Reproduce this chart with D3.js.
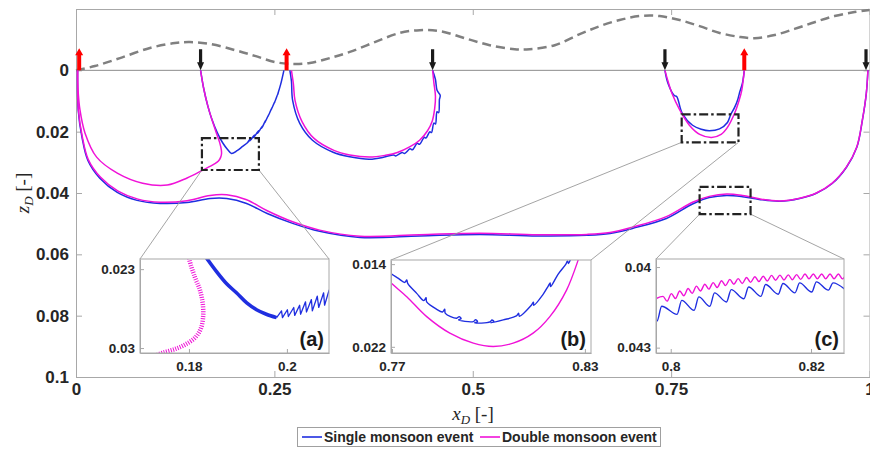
<!DOCTYPE html>
<html>
<head>
<meta charset="utf-8">
<script src="https://cdn.jsdelivr.net/npm/d3@7"></script>
<style>
body { margin: 0; background: #fff; }
text { font-family: "Liberation Sans", Arial, sans-serif; }
</style>
</head>
<body>
<div id="chart"></div>
<script>
// ---- data (x_D, z_D) ----
const xTicks = [0, 0.25, 0.5, 0.75, 1];
const zTicks = [0, 0.02, 0.04, 0.06, 0.08, 0.1];
const seriesNames = ["Single monsoon event", "Double monsoon event"];

// water table (dashed)
const waterX = [0, 0.0239, 0.0554, 0.0932, 0.1247, 0.1436, 0.1688, 0.2003, 0.2254, 0.2506, 0.272, 0.2947, 0.3199, 0.3451, 0.3766, 0.4081, 0.4332, 0.4584, 0.4899, 0.5214, 0.5529, 0.5718, 0.6033, 0.6348, 0.6599, 0.6851, 0.7103, 0.7355, 0.7607, 0.7859, 0.8111, 0.8363, 0.8552, 0.8804, 0.9055, 0.9307, 0.9559, 0.9811, 1];
const waterZ = [0, -0.0014, -0.004, -0.0073, -0.0089, -0.0092, -0.0086, -0.0066, -0.0047, -0.0027, -0.0021, -0.0024, -0.004, -0.006, -0.0092, -0.0122, -0.0131, -0.0128, -0.0105, -0.0082, -0.0069, -0.0069, -0.0082, -0.0118, -0.0144, -0.0164, -0.0177, -0.0177, -0.0164, -0.0144, -0.0122, -0.0109, -0.0105, -0.0115, -0.0135, -0.0157, -0.0177, -0.019, -0.0197];

// inflow (black, down) and outflow (red, up) points
const inflowX = [0.157, 0.4494, 0.7422, 0.9956];
const outflowX = [0.004, 0.2654, 0.8422];

// single monsoon event pathlines
const deepS = [[0.002,0],[0.0028,0.013],[0.0076,0.0219],[0.015,0.0294],[0.03,0.0352],[0.052,0.0398],[0.077,0.0424],[0.106,0.0434],[0.14,0.0431],[0.169,0.0418],[0.19,0.0418],[0.215,0.0434],[0.241,0.0467],[0.273,0.0499],[0.307,0.0525],[0.358,0.0545],[0.433,0.054],[0.509,0.0535],[0.581,0.054],[0.644,0.0538],[0.673,0.0532],[0.702,0.0515],[0.744,0.0483],[0.777,0.0436],[0.798,0.0415],[0.82,0.0408],[0.84,0.0412],[0.861,0.0421],[0.887,0.0427],[0.912,0.0418],[0.933,0.0401],[0.953,0.0369],[0.971,0.0316],[0.984,0.0251],[0.991,0.0163],[0.996,0.0075],[0.998,0]];
const leftS = [[0.157,0],[0.161,0.006],[0.166,0.0115],[0.171,0.0158],[0.178,0.0203],[0.185,0.0237],[0.191,0.0258],[0.196,0.0271],[0.203,0.0262],[0.21,0.0248],[0.216,0.0236],[0.22,0.0222],[0.219,0.023],[0.225,0.0211],[0.224,0.0219],[0.23,0.0197],[0.229,0.0205],[0.235,0.0181],[0.234,0.0189],[0.239,0.0163],[0.238,0.0171],[0.243,0.0143],[0.242,0.0151],[0.247,0.0121],[0.246,0.0129],[0.251,0.0099],[0.25,0.0107],[0.255,0.0072],[0.254,0.008],[0.258,0.0045],[0.262,0]];
const middleS = [[0.2695,0],[0.2715,0.0035],[0.273,0.0098],[0.282,0.0173],[0.298,0.0228],[0.324,0.0267],[0.345,0.0282],[0.37,0.029],[0.39,0.0282],[0.4,0.0276],[0.403,0.0279],[0.411,0.0268],[0.414,0.0271],[0.421,0.0256],[0.424,0.0259],[0.43,0.0238],[0.433,0.0241],[0.439,0.0218],[0.441,0.0221],[0.446,0.02],[0.448,0.0203],[0.451,0.0172],[0.453,0.0175],[0.455,0.0135],[0.457,0.0138],[0.458,0.0095],[0.459,0.0082],[0.455,0.0065],[0.453,0.003],[0.4494,0]];
const rightS = [[0.7422,0],[0.746,0.0042],[0.754,0.0082],[0.757,0.0085],[0.764,0.014],[0.777,0.0179],[0.788,0.0192],[0.798,0.0197],[0.811,0.0191],[0.821,0.017],[0.825,0.0145],[0.83,0.0121],[0.834,0.0095],[0.836,0.0075],[0.84,0.004],[0.8422,0]];

// double monsoon event pathlines
const deepD = [[0.002,0],[0.003,0.013],[0.008,0.0217],[0.0155,0.0291],[0.031,0.0349],[0.053,0.0394],[0.078,0.042],[0.106,0.043],[0.14,0.0425],[0.169,0.0408],[0.19,0.0406],[0.215,0.0422],[0.241,0.0458],[0.273,0.0494],[0.307,0.0521],[0.358,0.0541],[0.433,0.0536],[0.509,0.0531],[0.581,0.0536],[0.644,0.0535],[0.673,0.0529],[0.702,0.0511],[0.744,0.0477],[0.777,0.043],[0.798,0.0411],[0.82,0.0403],[0.84,0.0408],[0.861,0.0419],[0.887,0.0426],[0.912,0.0417],[0.933,0.04],[0.953,0.0368],[0.971,0.0315],[0.984,0.025],[0.991,0.0162],[0.996,0.0074],[0.998,0]];
const leftD = [[0.157,0],[0.161,0.006],[0.166,0.0115],[0.171,0.0158],[0.177,0.0205],[0.181,0.0235],[0.1832,0.026],[0.1834,0.0272],[0.1824,0.0283],[0.1795,0.0296],[0.174,0.0306],[0.16,0.0325],[0.14,0.0351],[0.115,0.0374],[0.084,0.0368],[0.052,0.0335],[0.026,0.0283],[0.0113,0.0204],[0.005,0.0129],[0.0025,0.006],[0.002,0]];
const middleD = [[0.2715,0],[0.274,0.0045],[0.276,0.0098],[0.285,0.0168],[0.3,0.0222],[0.325,0.0261],[0.345,0.0276],[0.37,0.0283],[0.39,0.0277],[0.405,0.0268],[0.421,0.0249],[0.433,0.0228],[0.443,0.0197],[0.449,0.0165],[0.452,0.0125],[0.453,0.0085],[0.451,0.004],[0.4494,0]];
const rightD = [[0.7422,0],[0.746,0.0035],[0.751,0.0075],[0.761,0.013],[0.773,0.0179],[0.786,0.0209],[0.801,0.0219],[0.813,0.0209],[0.821,0.0186],[0.83,0.014],[0.836,0.0095],[0.839,0.0065],[0.8422,0]];

// zoom boxes on the main plot [x0, x1, z0, z1]
const zoomBoxes = [[0.1587, 0.2305, 0.0221, 0.0325], [0.7633, 0.8349, 0.01435, 0.02348], [0.7859, 0.8501, 0.038, 0.0469]];

// inset (a)
const insetAx = [0.17, 0.2086], insetAz = [0.0221, 0.03044];
const insetAxTicks = [0.18, 0.2], insetAzTicks = [0.023, 0.03];
const insetAsingleBand = [[0.1831,0.0217],[0.1839,0.0222],[0.1856,0.0232],[0.1877,0.0243],[0.1897,0.0251],[0.1918,0.026],[0.1938,0.0266],[0.1958,0.027],[0.1979,0.0273]];
const insetAsingleTeeth = [[0.1979,0.0273],[0.1989,0.0267],[0.1991,0.0273],[0.2001,0.0266],[0.2003,0.0272],[0.2014,0.0264],[0.2016,0.0271],[0.2026,0.0262],[0.2028,0.027],[0.2038,0.0259],[0.204,0.0268],[0.205,0.0257],[0.2052,0.0267],[0.2062,0.0254],[0.2065,0.0264],[0.2075,0.0251],[0.2077,0.0262],[0.2086,0.0249],[0.2092,0.0245]];
const insetAdouble = [[0.1799,0.0216],[0.1801,0.0222],[0.1812,0.0237],[0.1822,0.0248],[0.1828,0.026],[0.1829,0.0272],[0.1824,0.0283],[0.1812,0.0291],[0.1792,0.0297],[0.1771,0.0301],[0.1748,0.0304],[0.1735,0.0306]];

// inset (b)
const insetBx = [0.7697, 0.8319], insetBz = [0.0136, 0.0226];
const insetBxTicks = [0.77, 0.83], insetBzTicks = [0.014, 0.022];
const insetBsingle = [[0.7688,0.0146],[0.7694,0.01484],[0.772,0.01538],[0.774,0.01577],[0.7746,0.01554],[0.7749,0.01586],[0.7777,0.01683],[0.7799,0.01753],[0.7806,0.01725],[0.7808,0.01766],[0.7839,0.01837],[0.7857,0.01863],[0.7864,0.01837],[0.7866,0.01876],[0.7901,0.01924],[0.7909,0.01908],[0.7915,0.01927],[0.7907,0.0194],[0.7953,0.01956],[0.796,0.01937],[0.7966,0.01956],[0.7957,0.01969],[0.8005,0.01959],[0.8011,0.0194],[0.8017,0.01956],[0.8008,0.01969],[0.8046,0.0194],[0.8087,0.01901],[0.8094,0.01876],[0.8096,0.01904],[0.8134,0.01795],[0.814,0.01769],[0.8141,0.01798],[0.817,0.01692],[0.8186,0.01612],[0.8192,0.01583],[0.8193,0.01618],[0.8217,0.01496],[0.8241,0.014],[0.8246,0.01368],[0.8249,0.01394],[0.8255,0.01355],[0.826,0.0132]];
const insetBdouble = [[0.7688,0.0154],[0.7694,0.0157],[0.7746,0.01715],[0.7808,0.01908],[0.788,0.02068],[0.7953,0.02165],[0.8015,0.02197],[0.8077,0.02165],[0.8139,0.02068],[0.8191,0.01908],[0.8243,0.01651],[0.8279,0.01361],[0.8283,0.0132]];

// inset (c)
const insetCx = [0.7979, 0.8247], insetCz = [0.0397, 0.0432];
const insetCxTicks = [0.8, 0.82], insetCzTicks = [0.04, 0.043];
const insetCsingle = [[0.79786,0.04186],[0.79805,0.04201],[0.79871,0.04146],[0.8009,0.04176],[0.80157,0.04124],[0.80333,0.04161],[0.804,0.04111],[0.80557,0.04146],[0.80624,0.04096],[0.80795,0.0413],[0.80862,0.04084],[0.81043,0.04118],[0.8111,0.04074],[0.81286,0.04109],[0.81352,0.04065],[0.81533,0.04101],[0.816,0.04061],[0.81771,0.04096],[0.81838,0.04059],[0.8201,0.04093],[0.82076,0.04055],[0.82248,0.04086],[0.82314,0.04059],[0.82486,0.04084]];
const insetCdouble = [[0.79786,0.04118],[0.7989,0.04109],[0.79947,0.04127],[0.8001,0.04099],[0.80067,0.04117],[0.80129,0.04089],[0.80186,0.04107],[0.80248,0.0408],[0.80305,0.04098],[0.80367,0.04071],[0.80424,0.04089],[0.80486,0.04064],[0.80543,0.04082],[0.80605,0.04058],[0.80662,0.04076],[0.80724,0.04051],[0.80781,0.04069],[0.80843,0.04046],[0.809,0.04064],[0.80962,0.04043],[0.81019,0.04061],[0.81081,0.04039],[0.81138,0.04057],[0.812,0.04036],[0.81257,0.04054],[0.81319,0.04034],[0.81376,0.04052],[0.81438,0.04031],[0.81495,0.04049],[0.81557,0.0403],[0.81614,0.04048],[0.81676,0.04029],[0.81733,0.04047],[0.81795,0.04028],[0.81852,0.04046],[0.81914,0.04026],[0.81971,0.04044],[0.82033,0.04026],[0.8209,0.04044],[0.82152,0.04026],[0.82209,0.04044],[0.82271,0.04026],[0.82328,0.04044],[0.8239,0.04026],[0.82447,0.04044],[0.8249,0.04032]];

// ---- drawing ----
const W = 870, H = 449;
const BLUE = "#1f2ee0", MAGENTA = "#f012d8", AXIS = "#a8a8a8", TXT = "#262626";

const svg = d3.select("#chart").append("svg").attr("width", W).attr("height", H);

const x = d3.scaleLinear().domain([0, 1]).range([76, 869.5]);
const y = d3.scaleLinear().domain([-0.02, 0.1]).range([9, 377]);

function styleAxis(g, size) {
	g.select(".domain").attr("stroke", AXIS);
	g.selectAll(".tick line").attr("stroke", AXIS);
	g.selectAll(".tick text")
		.attr("fill", TXT)
		.style("font-size", size + "px")
		.style("font-weight", "bold");
}

svg.append("g")
	.attr("transform", "translate(0,377)")
	.call(d3.axisBottom(x).tickValues(xTicks).tickFormat(String).tickSize(-6).tickSizeOuter(0).tickPadding(6))
	.call(styleAxis, 17);
svg.append("g")
	.attr("transform", "translate(76,0)")
	.call(d3.axisLeft(y).tickValues(zTicks).tickFormat(String).tickSize(-6).tickSizeOuter(0).tickPadding(7))
	.call(styleAxis, 17);
svg.append("g")
	.attr("transform", "translate(0,9)")
	.call(d3.axisTop(x).tickValues(xTicks).tickFormat("").tickSize(-6).tickSizeOuter(0))
	.call(styleAxis, 17);
svg.append("g")
	.attr("transform", "translate(869.5,0)")
	.call(d3.axisRight(y).tickValues(zTicks).tickFormat("").tickSize(-6).tickSizeOuter(0))
	.call(styleAxis, 17);

// z = 0 line
svg.append("line")
	.attr("x1", x(0)).attr("x2", x(1))
	.attr("y1", y(0)).attr("y2", y(0))
	.attr("stroke", "#8c8c8c")
	.attr("stroke-width", 1);

// water table
svg.append("path")
	.datum(d3.zip(waterX, waterZ))
	.attr("d", d3.line().x((d) => x(d[0])).y((d) => y(d[1])).curve(d3.curveCatmullRom))
	.attr("fill", "none")
	.attr("stroke", "#808080")
	.attr("stroke-width", 2.5)
	.attr("stroke-dasharray", "9,5");

// pathlines
const mainLine = d3.line().x((d) => x(d[0])).y((d) => y(d[1])).curve(d3.curveCatmullRom.alpha(0.5));
svg.selectAll(".single")
	.data([deepS, leftS, middleS, rightS])
	.enter()
	.append("path")
	.attr("d", mainLine)
	.attr("fill", "none")
	.attr("stroke", BLUE)
	.attr("stroke-width", 1.5);
svg.selectAll(".double")
	.data([deepD, leftD, middleD, rightD])
	.enter()
	.append("path")
	.attr("d", mainLine)
	.attr("fill", "none")
	.attr("stroke", MAGENTA)
	.attr("stroke-width", 1.5);

// arrows
const y0 = y(0);
svg.selectAll(".outflow")
	.data(outflowX)
	.enter()
	.append("path")
	.attr("d", (d) => {
		const c = x(d);
		return `M${c - 2},${y0} L${c - 2},${y0 - 15} L${c - 4},${y0 - 15} L${c},${y0 - 22} L${c + 4},${y0 - 15} L${c + 2},${y0 - 15} L${c + 2},${y0} Z`;
	})
	.attr("fill", "#ff0000");
svg.selectAll(".inflow")
	.data(inflowX)
	.enter()
	.append("path")
	.attr("d", (d) => {
		const c = x(d);
		return `M${c - 1.6},${y0 - 21} L${c + 1.6},${y0 - 21} L${c + 1.6},${y0 - 8} L${c + 3.5},${y0 - 8} L${c},${y0} L${c - 3.5},${y0 - 8} L${c - 1.6},${y0 - 8} Z`;
	})
	.attr("fill", "#1a1a1a");

// insets
const smooth = d3.curveCatmullRom.alpha(0.5);
const insets = [
	{ box: [140, 259, 329, 353], xd: insetAx, zd: insetAz, xt: insetAxTicks, zt: insetAzTicks, label: "(a)",
		lines: [
			{ data: insetAsingleBand, color: BLUE, w: 3.6, curve: smooth },
			{ data: insetAsingleTeeth, color: BLUE, w: 1.3, curve: d3.curveLinear },
			{ data: insetAdouble, color: MAGENTA, w: 4.5, dash: "1,1.4", curve: smooth }
		] },
	{ box: [391, 260, 591, 353], xd: insetBx, zd: insetBz, xt: insetBxTicks, zt: insetBzTicks, label: "(b)",
		lines: [
			{ data: insetBsingle, color: BLUE, w: 1.4, curve: smooth },
			{ data: insetBdouble, color: MAGENTA, w: 1.4, curve: smooth }
		] },
	{ box: [656, 259, 844, 353], xd: insetCx, zd: insetCz, xt: insetCxTicks, zt: insetCzTicks, label: "(c)",
		lines: [
			{ data: insetCsingle, color: BLUE, w: 1.4, curve: d3.curveMonotoneX },
			{ data: insetCdouble, color: MAGENTA, w: 1.4, curve: d3.curveMonotoneX }
		] }
];

// connectors and zoom boxes
insets.forEach((ins, i) => {
	const b = zoomBoxes[i];
	const [l, t, r] = ins.box;
	svg.append("line")
		.attr("x1", x(b[0])).attr("y1", y(b[3]))
		.attr("x2", l).attr("y2", t)
		.attr("stroke", "#9a9a9a").attr("stroke-width", 0.9);
	svg.append("line")
		.attr("x1", x(b[1])).attr("y1", y(b[3]))
		.attr("x2", r).attr("y2", t)
		.attr("stroke", "#9a9a9a").attr("stroke-width", 0.9);
});
svg.selectAll(".zoombox")
	.data(zoomBoxes)
	.enter()
	.append("rect")
	.attr("x", (d) => x(d[0]))
	.attr("y", (d) => y(d[2]))
	.attr("width", (d) => x(d[1]) - x(d[0]))
	.attr("height", (d) => y(d[3]) - y(d[2]))
	.attr("fill", "none")
	.attr("stroke", "#222")
	.attr("stroke-width", 2.2)
	.attr("stroke-dasharray", "9,3,2.5,3");

insets.forEach((ins, i) => {
	const [l, t, r, b] = ins.box;
	const xs = d3.scaleLinear().domain(ins.xd).range([l, r]);
	const zs = d3.scaleLinear().domain(ins.zd).range([t, b]);
	const g = svg.append("g");

	g.append("clipPath").attr("id", "clip" + i)
		.append("rect").attr("x", l).attr("y", t).attr("width", r - l).attr("height", b - t);
	g.append("rect")
		.attr("x", l).attr("y", t).attr("width", r - l).attr("height", b - t)
		.attr("fill", "#fff");

	const lg = g.append("g").attr("clip-path", `url(#clip${i})`);
	ins.lines.forEach((ln) => {
		lg.append("path")
			.datum(ln.data)
			.attr("d", d3.line().x((d) => xs(d[0])).y((d) => zs(d[1])).curve(ln.curve))
			.attr("fill", "none")
			.attr("stroke", ln.color)
			.attr("stroke-width", ln.w)
			.attr("stroke-dasharray", ln.dash || null)
			.attr("stroke-linejoin", "round");
	});

	g.append("g")
		.attr("transform", `translate(0,${b})`)
		.call(d3.axisBottom(xs).tickValues(ins.xt).tickFormat(String).tickSize(-4).tickSizeOuter(0).tickPadding(8))
		.call(styleAxis, 13.5);
	g.append("g")
		.attr("transform", `translate(${l},0)`)
		.call(d3.axisLeft(zs).tickValues(ins.zt).tickFormat(String).tickSize(-4).tickSizeOuter(0).tickPadding(5))
		.call(styleAxis, 13.5);
	g.append("rect")
		.attr("x", l).attr("y", t).attr("width", r - l).attr("height", b - t)
		.attr("fill", "none")
		.attr("stroke", AXIS);

	g.append("text")
		.attr("x", r - 5)
		.attr("y", b - 7)
		.attr("text-anchor", "end")
		.attr("fill", "#1a1a1a")
		.style("font-size", "20px")
		.style("font-weight", "bold")
		.text(ins.label);
});

// axis labels
const xl = svg.append("text")
	.attr("x", 473)
	.attr("y", 420)
	.attr("text-anchor", "middle")
	.attr("fill", TXT)
	.style("font-family", "'Liberation Serif', 'Times New Roman', serif")
	.style("font-size", "19px");
xl.append("tspan").style("font-style", "italic").text("x");
xl.append("tspan").style("font-style", "italic").style("font-size", "13px").attr("dy", 4).text("D");
xl.append("tspan").attr("dy", -4).text(" [-]");

const yl = svg.append("text")
	.attr("transform", "translate(29,193) rotate(-90)")
	.attr("text-anchor", "middle")
	.attr("fill", TXT)
	.style("font-family", "'Liberation Serif', 'Times New Roman', serif")
	.style("font-size", "19px");
yl.append("tspan").style("font-style", "italic").text("z");
yl.append("tspan").style("font-style", "italic").style("font-size", "13px").attr("dy", 4).text("D");
yl.append("tspan").attr("dy", -4).text(" [-]");

// legend
const leg = svg.append("g");
leg.append("rect")
	.attr("x", 297.5).attr("y", 427.5)
	.attr("width", 363).attr("height", 19)
	.attr("fill", "#fff")
	.attr("stroke", "#a0a0a0");
const legX = [302, 480];
[BLUE, MAGENTA].forEach((c, i) => {
	leg.append("line")
		.attr("x1", legX[i]).attr("x2", legX[i] + 20)
		.attr("y1", 437).attr("y2", 437)
		.attr("stroke", c).attr("stroke-width", 1.6);
	leg.append("text")
		.attr("x", legX[i] + 22)
		.attr("y", 442)
		.attr("fill", TXT)
		.style("font-size", "14px")
		.style("font-weight", "bold")
		.text(seriesNames[i]);
});
</script>
</body>
</html>
